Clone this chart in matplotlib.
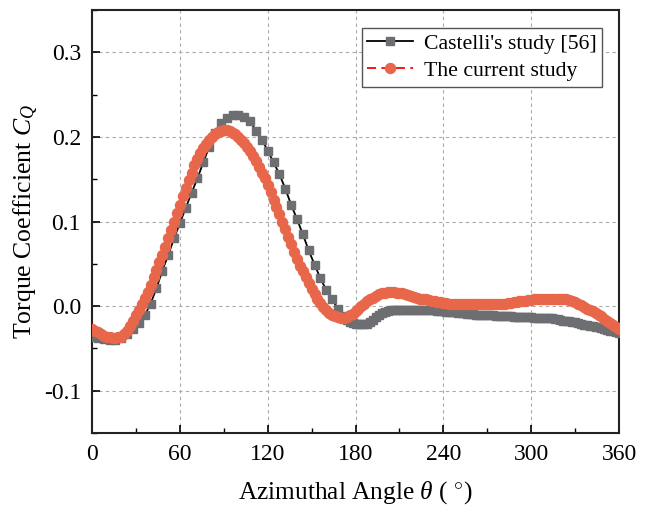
import matplotlib
matplotlib.use("Agg")
import matplotlib.pyplot as plt
from matplotlib.ticker import MultipleLocator
import numpy as np

plt.rcParams['font.family'] = ['Liberation Serif', 'DejaVu Serif']
plt.rcParams['mathtext.fontset'] = 'custom'
plt.rcParams['mathtext.rm'] = 'Liberation Serif'
plt.rcParams['mathtext.it'] = 'Liberation Serif:italic'
plt.rcParams['axes.unicode_minus'] = False

# Castelli's study [56]: coarse points up to 172 deg, then denser
castelli_theta = np.concatenate([np.arange(0, 173, 4), np.arange(174, 361, 2)])
castelli_cq = [
    -0.036, -0.038, -0.039, -0.040, -0.040, -0.038, -0.033, -0.027, -0.020, -0.011,
    0.003, 0.021, 0.042, 0.060, 0.080, 0.098, 0.116, 0.134, 0.151, 0.170,
    0.188, 0.205, 0.217, 0.223, 0.226, 0.226, 0.224, 0.219, 0.207, 0.197,
    0.184, 0.170, 0.156, 0.139, 0.120, 0.103, 0.085, 0.066, 0.049, 0.033,
    0.019, 0.008, -0.003, -0.012,
    # 174 .. 360 step 2
    -0.016, -0.019, -0.020, -0.021, -0.021, -0.021, -0.021, -0.021, -0.019, -0.016,
    -0.013, -0.010, -0.008, -0.007, -0.006, -0.005, -0.005, -0.005, -0.004, -0.004,
    -0.004, -0.004, -0.004, -0.004, -0.004, -0.004, -0.004, -0.004, -0.005, -0.005,
    -0.005, -0.006, -0.006, -0.006, -0.007, -0.007, -0.007, -0.007, -0.008, -0.008,
    -0.008, -0.009, -0.009, -0.009, -0.010, -0.010, -0.010, -0.011, -0.011, -0.011,
    -0.011, -0.012, -0.012, -0.012, -0.012, -0.012, -0.012, -0.013, -0.013, -0.013,
    -0.013, -0.013, -0.013, -0.013, -0.014, -0.014, -0.014, -0.014, -0.014, -0.014,
    -0.014, -0.015, -0.015, -0.016, -0.017, -0.017, -0.018, -0.019, -0.019, -0.020,
    -0.021, -0.022, -0.022, -0.023, -0.024, -0.025, -0.025, -0.026, -0.027, -0.028,
    -0.029, -0.030, -0.031, -0.032,
]

# current study, every 2 deg
current_theta = np.arange(0, 361, 2)
current_cq = [
    -0.027, -0.029, -0.031, -0.033, -0.035, -0.036, -0.037, -0.038, -0.038, -0.037,
    -0.036, -0.033, -0.029, -0.024, -0.018, -0.011, -0.004, 0.003, 0.010, 0.017,
    0.025, 0.034, 0.043, 0.052, 0.061, 0.070, 0.080, 0.090, 0.100, 0.110,
    0.120, 0.130, 0.140, 0.149, 0.158, 0.167, 0.174, 0.181, 0.187, 0.192,
    0.197, 0.200, 0.203, 0.206, 0.207, 0.208, 0.208, 0.207, 0.205, 0.203,
    0.200, 0.197, 0.193, 0.188, 0.183, 0.178, 0.172, 0.165, 0.158, 0.151,
    0.143, 0.135, 0.126, 0.117, 0.109, 0.100, 0.091, 0.082, 0.073, 0.064,
    0.056, 0.048, 0.041, 0.034, 0.027, 0.020, 0.014, 0.009, 0.004, -0.001,
    -0.005, -0.008, -0.010, -0.012, -0.013, -0.014, -0.014, -0.013, -0.011, -0.009,
    -0.006, -0.003, 0.000, 0.003, 0.006, 0.008, 0.010, 0.012, 0.014, 0.015,
    0.016, 0.017, 0.017, 0.017, 0.016, 0.016, 0.015, 0.014, 0.013, 0.012,
    0.011, 0.010, 0.009, 0.009, 0.008, 0.007, 0.006, 0.006, 0.005, 0.005,
    0.004, 0.004, 0.003, 0.003, 0.003, 0.003, 0.002, 0.002, 0.002, 0.002,
    0.002, 0.002, 0.002, 0.002, 0.002, 0.002, 0.002, 0.002, 0.002, 0.003,
    0.003, 0.003, 0.004, 0.004, 0.005, 0.005, 0.006, 0.006, 0.006, 0.007,
    0.007, 0.008, 0.008, 0.008, 0.009, 0.009, 0.009, 0.009, 0.009, 0.009,
    0.009, 0.008, 0.008, 0.007, 0.006, 0.005, 0.003, 0.001, -0.001, -0.003,
    -0.004, -0.006, -0.008, -0.010, -0.012, -0.015, -0.017, -0.020, -0.022, -0.025,
    -0.027,
]

fig = plt.figure(figsize=(6.49, 5.07), dpi=100)
ax = fig.add_axes([0.1418, 0.146, 0.812, 0.834])

ax.plot(castelli_theta, castelli_cq, color='black', lw=1.3, marker='s', ms=5.5,
        mfc='#6d6e71', mec='#6d6e71', label="Castelli's study [56]", zorder=3)
ax.plot(current_theta, current_cq, color='red', lw=1.3, ls=(0, (5, 3)), marker='o', ms=7.2,
        mfc='#e8674b', mec='#e8674b', label='The current study', zorder=4)

ax.set_xlim(0, 360)
ax.set_ylim(-0.15, 0.35)
ax.xaxis.set_major_locator(MultipleLocator(60))
ax.xaxis.set_minor_locator(MultipleLocator(30))
ax.yaxis.set_major_locator(MultipleLocator(0.1))
ax.yaxis.set_minor_locator(MultipleLocator(0.05))
ax.set_yticks([-0.1, 0.0, 0.1, 0.2, 0.3])
ax.set_yticklabels(['-0.1', '0.0', '0.1', '0.2', '0.3'])
ax.tick_params(which='major', direction='in', length=6, width=1.2, labelsize=17, pad=8)
ax.tick_params(which='minor', direction='in', length=3.5, width=1.0)
ax.tick_params(top=False, right=False, which='both')
for s in ax.spines.values():
    s.set_linewidth(1.5)
    s.set_color('#222222')
ax.grid(True, which='major', ls=(0, (3, 3)), color='#aaaaaa', lw=0.8)
ax.set_axisbelow(True)

ax.set_xlabel(r'Azimuthal Angle $\theta$ ( $^{\circ}$)', fontsize=18.3, labelpad=10)
ax.set_ylabel(r'Torque Coefficient $C_Q$', fontsize=18.5, labelpad=3)

leg = ax.legend(loc='upper right', bbox_to_anchor=(0.968, 0.958), fontsize=15.7, frameon=True,
                fancybox=False, edgecolor='#555555', framealpha=1, handlelength=2.1,
                borderpad=0.25, labelspacing=0.33, handletextpad=0.5, borderaxespad=0)
leg.get_frame().set_linewidth(1.0)

fig.savefig('out.png', dpi=100)
